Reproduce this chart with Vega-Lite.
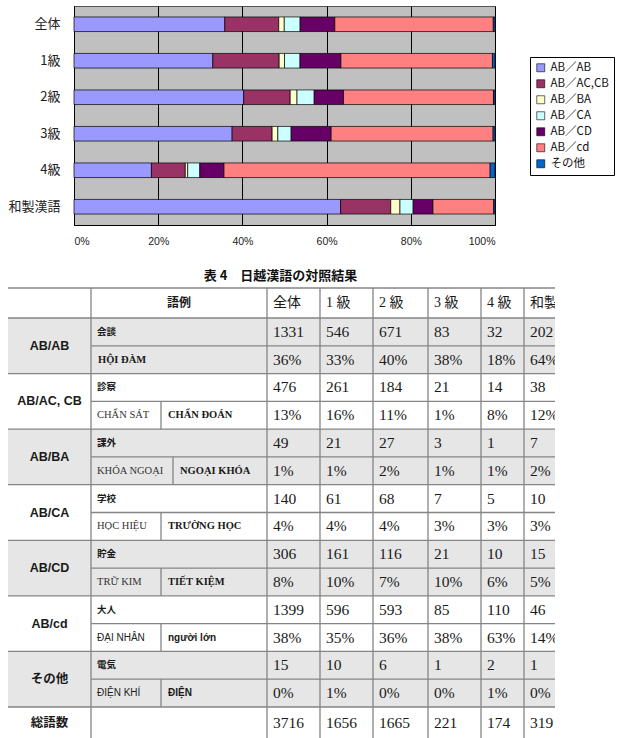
{
  "$schema": "https://vega.github.io/schema/vega-lite/v6.json",
  "padding": {"left": 7, "top": 5, "right": 0, "bottom": 0},
  "spacing": 23,
  "background": "white",
  "config": {"view": {"stroke": null}, "font": "Noto Sans CJK JP"},
  "datasets": {
    "bars": [
      {"group": "全体", "type": "AB／AB", "n": 1331}, {"group": "全体", "type": "AB／AC,CB", "n": 476}, {"group": "全体", "type": "AB／BA", "n": 49}, {"group": "全体", "type": "AB／CA", "n": 140}, {"group": "全体", "type": "AB／CD", "n": 306}, {"group": "全体", "type": "AB／cd", "n": 1399}, {"group": "全体", "type": "その他", "n": 15},
      {"group": "1級", "type": "AB／AB", "n": 546}, {"group": "1級", "type": "AB／AC,CB", "n": 261}, {"group": "1級", "type": "AB／BA", "n": 21}, {"group": "1級", "type": "AB／CA", "n": 61}, {"group": "1級", "type": "AB／CD", "n": 161}, {"group": "1級", "type": "AB／cd", "n": 596}, {"group": "1級", "type": "その他", "n": 10},
      {"group": "2級", "type": "AB／AB", "n": 671}, {"group": "2級", "type": "AB／AC,CB", "n": 184}, {"group": "2級", "type": "AB／BA", "n": 27}, {"group": "2級", "type": "AB／CA", "n": 68}, {"group": "2級", "type": "AB／CD", "n": 116}, {"group": "2級", "type": "AB／cd", "n": 593}, {"group": "2級", "type": "その他", "n": 6},
      {"group": "3級", "type": "AB／AB", "n": 83}, {"group": "3級", "type": "AB／AC,CB", "n": 21}, {"group": "3級", "type": "AB／BA", "n": 3}, {"group": "3級", "type": "AB／CA", "n": 7}, {"group": "3級", "type": "AB／CD", "n": 21}, {"group": "3級", "type": "AB／cd", "n": 85}, {"group": "3級", "type": "その他", "n": 1},
      {"group": "4級", "type": "AB／AB", "n": 32}, {"group": "4級", "type": "AB／AC,CB", "n": 14}, {"group": "4級", "type": "AB／BA", "n": 1}, {"group": "4級", "type": "AB／CA", "n": 5}, {"group": "4級", "type": "AB／CD", "n": 10}, {"group": "4級", "type": "AB／cd", "n": 110}, {"group": "4級", "type": "その他", "n": 2},
      {"group": "和製漢語", "type": "AB／AB", "n": 202}, {"group": "和製漢語", "type": "AB／AC,CB", "n": 38}, {"group": "和製漢語", "type": "AB／BA", "n": 7}, {"group": "和製漢語", "type": "AB／CA", "n": 10}, {"group": "和製漢語", "type": "AB／CD", "n": 15}, {"group": "和製漢語", "type": "AB／cd", "n": 46}, {"group": "和製漢語", "type": "その他", "n": 1}
    ],
    "cols": [
      {"name": "全体", "c": 3}, {"name": "1 級", "c": 4}, {"name": "2 級", "c": 5}, {"name": "3 級", "c": 6}, {"name": "4 級", "c": 7}, {"name": "和製漢語", "c": 8}
    ],
    "nums": [
      {"r": 1.5, "全体": "1331", "1 級": "546", "2 級": "671", "3 級": "83", "4 級": "32", "和製漢語": "202"},
      {"r": 2.5, "全体": "36%", "1 級": "33%", "2 級": "40%", "3 級": "38%", "4 級": "18%", "和製漢語": "64%"},
      {"r": 3.5, "全体": "476", "1 級": "261", "2 級": "184", "3 級": "21", "4 級": "14", "和製漢語": "38"},
      {"r": 4.5, "全体": "13%", "1 級": "16%", "2 級": "11%", "3 級": "1%", "4 級": "8%", "和製漢語": "12%"},
      {"r": 5.5, "全体": "49", "1 級": "21", "2 級": "27", "3 級": "3", "4 級": "1", "和製漢語": "7"},
      {"r": 6.5, "全体": "1%", "1 級": "1%", "2 級": "2%", "3 級": "1%", "4 級": "1%", "和製漢語": "2%"},
      {"r": 7.5, "全体": "140", "1 級": "61", "2 級": "68", "3 級": "7", "4 級": "5", "和製漢語": "10"},
      {"r": 8.5, "全体": "4%", "1 級": "4%", "2 級": "4%", "3 級": "3%", "4 級": "3%", "和製漢語": "3%"},
      {"r": 9.5, "全体": "306", "1 級": "161", "2 級": "116", "3 級": "21", "4 級": "10", "和製漢語": "15"},
      {"r": 10.5, "全体": "8%", "1 級": "10%", "2 級": "7%", "3 級": "10%", "4 級": "6%", "和製漢語": "5%"},
      {"r": 11.5, "全体": "1399", "1 級": "596", "2 級": "593", "3 級": "85", "4 級": "110", "和製漢語": "46"},
      {"r": 12.5, "全体": "38%", "1 級": "35%", "2 級": "36%", "3 級": "38%", "4 級": "63%", "和製漢語": "14%"},
      {"r": 13.5, "全体": "15", "1 級": "10", "2 級": "6", "3 級": "1", "4 級": "2", "和製漢語": "1"},
      {"r": 14.5, "全体": "0%", "1 級": "1%", "2 級": "0%", "3 級": "0%", "4 級": "1%", "和製漢語": "0%"},
      {"r": 15.5, "全体": "3716", "1 級": "1656", "2 級": "1665", "3 級": "221", "4 級": "174", "和製漢語": "319"}
    ],
    "grp": [
      {"g": "AB/AB", "r": 2}, {"g": "AB/AC, CB", "r": 4}, {"g": "AB/BA", "r": 6}, {"g": "AB/CA", "r": 8},
      {"g": "AB/CD", "r": 10}, {"g": "AB/cd", "r": 12}, {"g": "その他", "r": 14}, {"g": "総語数", "r": 15.5}
    ],
    "shade": [{"r0": 1, "r1": 3}, {"r0": 5, "r1": 7}, {"r0": 9, "r1": 11}, {"r0": 13, "r1": 15}],
    "hl": [
      {"r": 0, "c": 0}, {"r": 1, "c": 0}, {"r": 2, "c": 1}, {"r": 3, "c": 0}, {"r": 4, "c": 1}, {"r": 5, "c": 0},
      {"r": 6, "c": 1}, {"r": 7, "c": 0}, {"r": 8, "c": 1}, {"r": 9, "c": 0}, {"r": 10, "c": 1}, {"r": 11, "c": 0},
      {"r": 12, "c": 1}, {"r": 13, "c": 0}, {"r": 14, "c": 1}, {"r": 15, "c": 0}
    ],
    "vl": [{"c": 1}, {"c": 3}, {"c": 4}, {"c": 5}, {"c": 6}, {"c": 7}, {"c": 8}],
    "words": [
      {"g": "AB/AB", "k": "ja", "r": 1.5, "c": 1, "t": "会談"},
      {"g": "AB/AB", "k": "vn", "r": 2.5, "c": 1, "t": "HỘI ĐÀM"},
      {"g": "AB/AC, CB", "k": "ja", "r": 3.5, "c": 1, "t": "診察"},
      {"g": "AB/AC, CB", "k": "hv", "r": 4.5, "c": 1, "t": "CHẨN SÁT"},
      {"g": "AB/AC, CB", "k": "vn", "r": 4.5, "c": 2, "t": "CHẨN ĐOÁN"},
      {"g": "AB/BA", "k": "ja", "r": 5.5, "c": 1, "t": "課外"},
      {"g": "AB/BA", "k": "hv", "r": 6.5, "c": 1, "t": "KHÓA NGOẠI"},
      {"g": "AB/BA", "k": "vn", "r": 6.5, "c": 2, "t": "NGOẠI KHÓA"},
      {"g": "AB/CA", "k": "ja", "r": 7.5, "c": 1, "t": "学校"},
      {"g": "AB/CA", "k": "hv", "r": 8.5, "c": 1, "t": "HỌC HIỆU"},
      {"g": "AB/CA", "k": "vn", "r": 8.5, "c": 2, "t": "TRƯỜNG HỌC"},
      {"g": "AB/CD", "k": "ja", "r": 9.5, "c": 1, "t": "貯金"},
      {"g": "AB/CD", "k": "hv", "r": 10.5, "c": 1, "t": "TRỮ KIM"},
      {"g": "AB/CD", "k": "vn", "r": 10.5, "c": 2, "t": "TIẾT KIỆM"},
      {"g": "AB/cd", "k": "ja", "r": 11.5, "c": 1, "t": "大人"},
      {"g": "AB/cd", "k": "hv", "r": 12.5, "c": 1, "t": "ĐẠI NHÂN"},
      {"g": "AB/cd", "k": "vn", "r": 12.5, "c": 2, "t": "người lớn"},
      {"g": "その他", "k": "ja", "r": 13.5, "c": 1, "t": "電気"},
      {"g": "その他", "k": "hv", "r": 14.5, "c": 1, "t": "ĐIỆN KHÍ"},
      {"g": "その他", "k": "vn", "r": 14.5, "c": 2, "t": "ĐIỆN"}
    ]
  },
  "vconcat": [
    {
      "width": 421,
      "height": 219,
      "view": {"fill": "#c0c0c0", "stroke": "#555555", "strokeWidth": 1},
      "data": {"name": "bars"},
      "mark": {"type": "bar", "stroke": "#000000", "strokeWidth": 0.7},
      "encoding": {
        "y": {
          "field": "group", "type": "nominal",
          "sort": ["全体", "1級", "2級", "3級", "4級", "和製漢語"],
          "scale": {"paddingInner": 0.6, "paddingOuter": 0.3},
          "axis": {"title": null, "ticks": false, "domainColor": "#000000",
                   "labelFontSize": 13, "labelColor": "#222222", "labelPadding": 14, "labelFont": "Noto Sans CJK JP"}
        },
        "x": {
          "field": "n", "type": "quantitative", "stack": "normalize",
          "scale": {"domain": [0, 1], "nice": false},
          "axis": {"title": null, "format": ".0%", "values": [0, 0.2, 0.4, 0.6, 0.8, 1], "grid": true, "gridColor": "#000000",
                   "gridOpacity": 1, "gridWidth": 1, "ticks": false, "domainColor": "#000000", "labelFontSize": 10.5,
                   "labelPadding": 11, "labelColor": "#222222", "labelFont": "Liberation Sans"}
        },
        "color": {
          "field": "type", "type": "nominal",
          "scale": {"domain": ["AB／AB", "AB／AC,CB", "AB／BA", "AB／CA", "AB／CD", "AB／cd", "その他"],
                    "range": ["#9999ff", "#993366", "#ffffcc", "#ccffff", "#660066", "#ff8080", "#0066cc"]},
          "legend": {"title": null, "orient": "none", "legendX": 456, "legendY": 51, "strokeColor": "#000000", "fillColor": "#ffffff",
                     "padding": 5, "symbolType": "square", "symbolSize": 64, "symbolStrokeColor": "#000000", "symbolStrokeWidth": 0.6,
                     "labelFontSize": 11.5, "labelColor": "#111111", "rowPadding": 3, "labelOffset": 4, "labelFont": "Noto Sans CJK JP"}
        },
        "order": {"field": "type", "sort": "ascending"}
      }
    },
    {
      "width": 481,
      "height": 450,
      "title": {"text": "表 4　日越漢語の対照結果", "fontSize": 13, "font": "Noto Sans CJK JP", "fontWeight": "bold", "anchor": "middle", "offset": 4, "dx": -34, "color": "#111111"},
      "view": {"stroke": null},
      "layer": [
        {
          "data": {"name": "shade"},
          "mark": {"type": "rect", "fill": "#e6e6e6"},
          "encoding": {
            "x": {"datum": 0, "type": "quantitative", "scale": {"domain": [0, 1, 2, 3, 4, 5, 6, 7, 8, 9], "range": [-66, 17, 87, 193, 246, 299, 354, 407, 450, 481], "nice": false, "zero": false}, "axis": null},
            "x2": {"datum": 9},
            "y": {"field": "r0", "type": "quantitative", "scale": {"domain": [0, 1, 15, 16], "range": [0, 30, 419, 450], "nice": false, "zero": false}, "axis": null},
            "y2": {"field": "r1"}
          }
        },
        {
          "data": {"name": "hl"},
          "mark": {"type": "rule", "stroke": "#858585", "strokeWidth": 1.3},
          "encoding": {
            "x": {"field": "c", "type": "quantitative", "scale": {"domain": [0, 1, 2, 3, 4, 5, 6, 7, 8, 9], "range": [-66, 17, 87, 193, 246, 299, 354, 407, 450, 481], "nice": false, "zero": false}, "axis": null},
            "x2": {"datum": 9},
            "y": {"field": "r", "type": "quantitative", "scale": {"domain": [0, 1, 15, 16], "range": [0, 30, 419, 450], "nice": false, "zero": false}, "axis": null}
          }
        },
        {
          "data": {"name": "vl"},
          "mark": {"type": "rule", "stroke": "#858585", "strokeWidth": 1.3},
          "encoding": {
            "x": {"field": "c", "type": "quantitative", "scale": {"domain": [0, 1, 2, 3, 4, 5, 6, 7, 8, 9], "range": [-66, 17, 87, 193, 246, 299, 354, 407, 450, 481], "nice": false, "zero": false}, "axis": null},
            "y": {"datum": 0, "type": "quantitative", "scale": {"domain": [0, 1, 15, 16], "range": [0, 30, 419, 450], "nice": false, "zero": false}, "axis": null},
            "y2": {"datum": 16}
          }
        },
        {
          "data": {"name": "words"},
          "transform": [{"filter": "datum.k == 'hv' && datum.g != 'AB/BA'"}],
          "mark": {"type": "tick", "orient": "vertical", "size": 27.8, "thickness": 1.3, "color": "#858585", "opacity": 1},
          "encoding": {
            "x": {"datum": 2, "type": "quantitative", "scale": {"domain": [0, 1, 2, 3, 4, 5, 6, 7, 8, 9], "range": [-66, 17, 87, 193, 246, 299, 354, 407, 450, 481], "nice": false, "zero": false}, "axis": null},
            "y": {"field": "r", "type": "quantitative", "scale": {"domain": [0, 1, 15, 16], "range": [0, 30, 419, 450], "nice": false, "zero": false}, "axis": null}
          }
        },
        {
          "data": {"name": "words"},
          "transform": [{"filter": "datum.k == 'hv' && datum.g == 'AB/BA'"}],
          "mark": {"type": "tick", "orient": "vertical", "size": 27.8, "thickness": 1.3, "color": "#858585", "opacity": 1, "xOffset": 12},
          "encoding": {
            "x": {"datum": 2, "type": "quantitative", "scale": {"domain": [0, 1, 2, 3, 4, 5, 6, 7, 8, 9], "range": [-66, 17, 87, 193, 246, 299, 354, 407, 450, 481], "nice": false, "zero": false}, "axis": null},
            "y": {"field": "r", "type": "quantitative", "scale": {"domain": [0, 1, 15, 16], "range": [0, 30, 419, 450], "nice": false, "zero": false}, "axis": null}
          }
        },
        {
          "data": {"name": "cols"},
          "mark": {"type": "text", "align": "left", "baseline": "middle", "dx": 6, "fontSize": 14, "font": "Liberation Serif, Noto Sans CJK JP", "color": "#1a1a1a", "clip": true},
          "encoding": {
            "x": {"field": "c", "type": "quantitative", "scale": {"domain": [0, 1, 2, 3, 4, 5, 6, 7, 8, 9], "range": [-66, 17, 87, 193, 246, 299, 354, 407, 450, 481], "nice": false, "zero": false}, "axis": null},
            "y": {"datum": 0.5, "type": "quantitative", "scale": {"domain": [0, 1, 15, 16], "range": [0, 30, 419, 450], "nice": false, "zero": false}, "axis": null},
            "text": {"field": "name"}
          }
        },
        {
          "data": {"values": [{"name": "語例"}]},
          "mark": {"type": "text", "align": "center", "baseline": "middle", "dx": 88, "fontSize": 12, "fontWeight": "bold", "font": "Noto Sans CJK JP", "color": "#1a1a1a"},
          "encoding": {
            "x": {"datum": 1, "type": "quantitative", "scale": {"domain": [0, 1, 2, 3, 4, 5, 6, 7, 8, 9], "range": [-66, 17, 87, 193, 246, 299, 354, 407, 450, 481], "nice": false, "zero": false}, "axis": null},
            "y": {"datum": 0.5, "type": "quantitative", "scale": {"domain": [0, 1, 15, 16], "range": [0, 30, 419, 450], "nice": false, "zero": false}, "axis": null},
            "text": {"field": "name"}
          }
        },
        {
          "data": {"name": "grp"},
          "mark": {"type": "text", "align": "center", "baseline": "middle", "fontSize": 12.5, "fontWeight": "bold", "font": "Liberation Sans, Noto Sans CJK JP", "color": "#1a1a1a"},
          "encoding": {
            "x": {"datum": 0.5, "type": "quantitative", "scale": {"domain": [0, 1, 2, 3, 4, 5, 6, 7, 8, 9], "range": [-66, 17, 87, 193, 246, 299, 354, 407, 450, 481], "nice": false, "zero": false}, "axis": null},
            "y": {"field": "r", "type": "quantitative", "scale": {"domain": [0, 1, 15, 16], "range": [0, 30, 419, 450], "nice": false, "zero": false}, "axis": null},
            "text": {"field": "g"}
          }
        },
        {
          "data": {"name": "words"},
          "transform": [{"filter": "datum.k == 'ja'"}],
          "mark": {"type": "text", "align": "left", "baseline": "middle", "dx": 6, "fontSize": 9.5, "fontWeight": "bold", "font": "Noto Sans CJK JP", "color": "#1a1a1a"},
          "encoding": {
            "x": {"field": "c", "type": "quantitative", "scale": {"domain": [0, 1, 2, 3, 4, 5, 6, 7, 8, 9], "range": [-66, 17, 87, 193, 246, 299, 354, 407, 450, 481], "nice": false, "zero": false}, "axis": null},
            "y": {"field": "r", "type": "quantitative", "scale": {"domain": [0, 1, 15, 16], "range": [0, 30, 419, 450], "nice": false, "zero": false}, "axis": null},
            "text": {"field": "t"}
          }
        },
        {
          "data": {"name": "words"},
          "transform": [{"filter": "datum.k == 'hv' && datum.g != 'AB/cd' && datum.g != 'その他'"}],
          "mark": {"type": "text", "align": "left", "baseline": "middle", "dx": 6, "fontSize": 10.5, "font": "Liberation Serif", "color": "#333333"},
          "encoding": {
            "x": {"field": "c", "type": "quantitative", "scale": {"domain": [0, 1, 2, 3, 4, 5, 6, 7, 8, 9], "range": [-66, 17, 87, 193, 246, 299, 354, 407, 450, 481], "nice": false, "zero": false}, "axis": null},
            "y": {"field": "r", "type": "quantitative", "scale": {"domain": [0, 1, 15, 16], "range": [0, 30, 419, 450], "nice": false, "zero": false}, "axis": null},
            "text": {"field": "t"}
          }
        },
        {
          "data": {"name": "words"},
          "transform": [{"filter": "datum.k == 'hv' && (datum.g == 'AB/cd' || datum.g == 'その他')"}],
          "mark": {"type": "text", "align": "left", "baseline": "middle", "dx": 6, "fontSize": 10, "font": "Liberation Sans", "color": "#222222"},
          "encoding": {
            "x": {"field": "c", "type": "quantitative", "scale": {"domain": [0, 1, 2, 3, 4, 5, 6, 7, 8, 9], "range": [-66, 17, 87, 193, 246, 299, 354, 407, 450, 481], "nice": false, "zero": false}, "axis": null},
            "y": {"field": "r", "type": "quantitative", "scale": {"domain": [0, 1, 15, 16], "range": [0, 30, 419, 450], "nice": false, "zero": false}, "axis": null},
            "text": {"field": "t"}
          }
        },
        {
          "data": {"name": "words"},
          "transform": [{"filter": "datum.k == 'vn' && datum.g != 'AB/cd' && datum.g != 'その他' && datum.g != 'AB/BA'"}],
          "mark": {"type": "text", "align": "left", "baseline": "middle", "dx": 7, "fontSize": 10.5, "fontWeight": "bold", "font": "Liberation Serif", "color": "#1a1a1a"},
          "encoding": {
            "x": {"field": "c", "type": "quantitative", "scale": {"domain": [0, 1, 2, 3, 4, 5, 6, 7, 8, 9], "range": [-66, 17, 87, 193, 246, 299, 354, 407, 450, 481], "nice": false, "zero": false}, "axis": null},
            "y": {"field": "r", "type": "quantitative", "scale": {"domain": [0, 1, 15, 16], "range": [0, 30, 419, 450], "nice": false, "zero": false}, "axis": null},
            "text": {"field": "t"}
          }
        },
        {
          "data": {"name": "words"},
          "transform": [{"filter": "datum.k == 'vn' && datum.g == 'AB/BA'"}],
          "mark": {"type": "text", "align": "left", "baseline": "middle", "dx": 19, "fontSize": 10.5, "fontWeight": "bold", "font": "Liberation Serif", "color": "#1a1a1a"},
          "encoding": {
            "x": {"field": "c", "type": "quantitative", "scale": {"domain": [0, 1, 2, 3, 4, 5, 6, 7, 8, 9], "range": [-66, 17, 87, 193, 246, 299, 354, 407, 450, 481], "nice": false, "zero": false}, "axis": null},
            "y": {"field": "r", "type": "quantitative", "scale": {"domain": [0, 1, 15, 16], "range": [0, 30, 419, 450], "nice": false, "zero": false}, "axis": null},
            "text": {"field": "t"}
          }
        },
        {
          "data": {"name": "words"},
          "transform": [{"filter": "datum.k == 'vn' && (datum.g == 'AB/cd' || datum.g == 'その他')"}],
          "mark": {"type": "text", "align": "left", "baseline": "middle", "dx": 7, "fontSize": 10, "fontWeight": "bold", "font": "Liberation Sans", "color": "#1a1a1a"},
          "encoding": {
            "x": {"field": "c", "type": "quantitative", "scale": {"domain": [0, 1, 2, 3, 4, 5, 6, 7, 8, 9], "range": [-66, 17, 87, 193, 246, 299, 354, 407, 450, 481], "nice": false, "zero": false}, "axis": null},
            "y": {"field": "r", "type": "quantitative", "scale": {"domain": [0, 1, 15, 16], "range": [0, 30, 419, 450], "nice": false, "zero": false}, "axis": null},
            "text": {"field": "t"}
          }
        },
        {
          "data": {"name": "nums"},
          "transform": [
            {"fold": ["全体", "1 級", "2 級", "3 級", "4 級", "和製漢語"], "as": ["col", "val"]},
            {"lookup": "col", "from": {"data": {"name": "cols"}, "key": "name", "fields": ["c"]}}
          ],
          "mark": {"type": "text", "align": "left", "baseline": "middle", "dx": 6, "fontSize": 15.5, "font": "Liberation Serif", "color": "#1a1a1a", "clip": true},
          "encoding": {
            "x": {"field": "c", "type": "quantitative", "scale": {"domain": [0, 1, 2, 3, 4, 5, 6, 7, 8, 9], "range": [-66, 17, 87, 193, 246, 299, 354, 407, 450, 481], "nice": false, "zero": false}, "axis": null},
            "y": {"field": "r", "type": "quantitative", "scale": {"domain": [0, 1, 15, 16], "range": [0, 30, 419, 450], "nice": false, "zero": false}, "axis": null},
            "text": {"field": "val"}
          }
        }
      ]
    }
  ]
}
